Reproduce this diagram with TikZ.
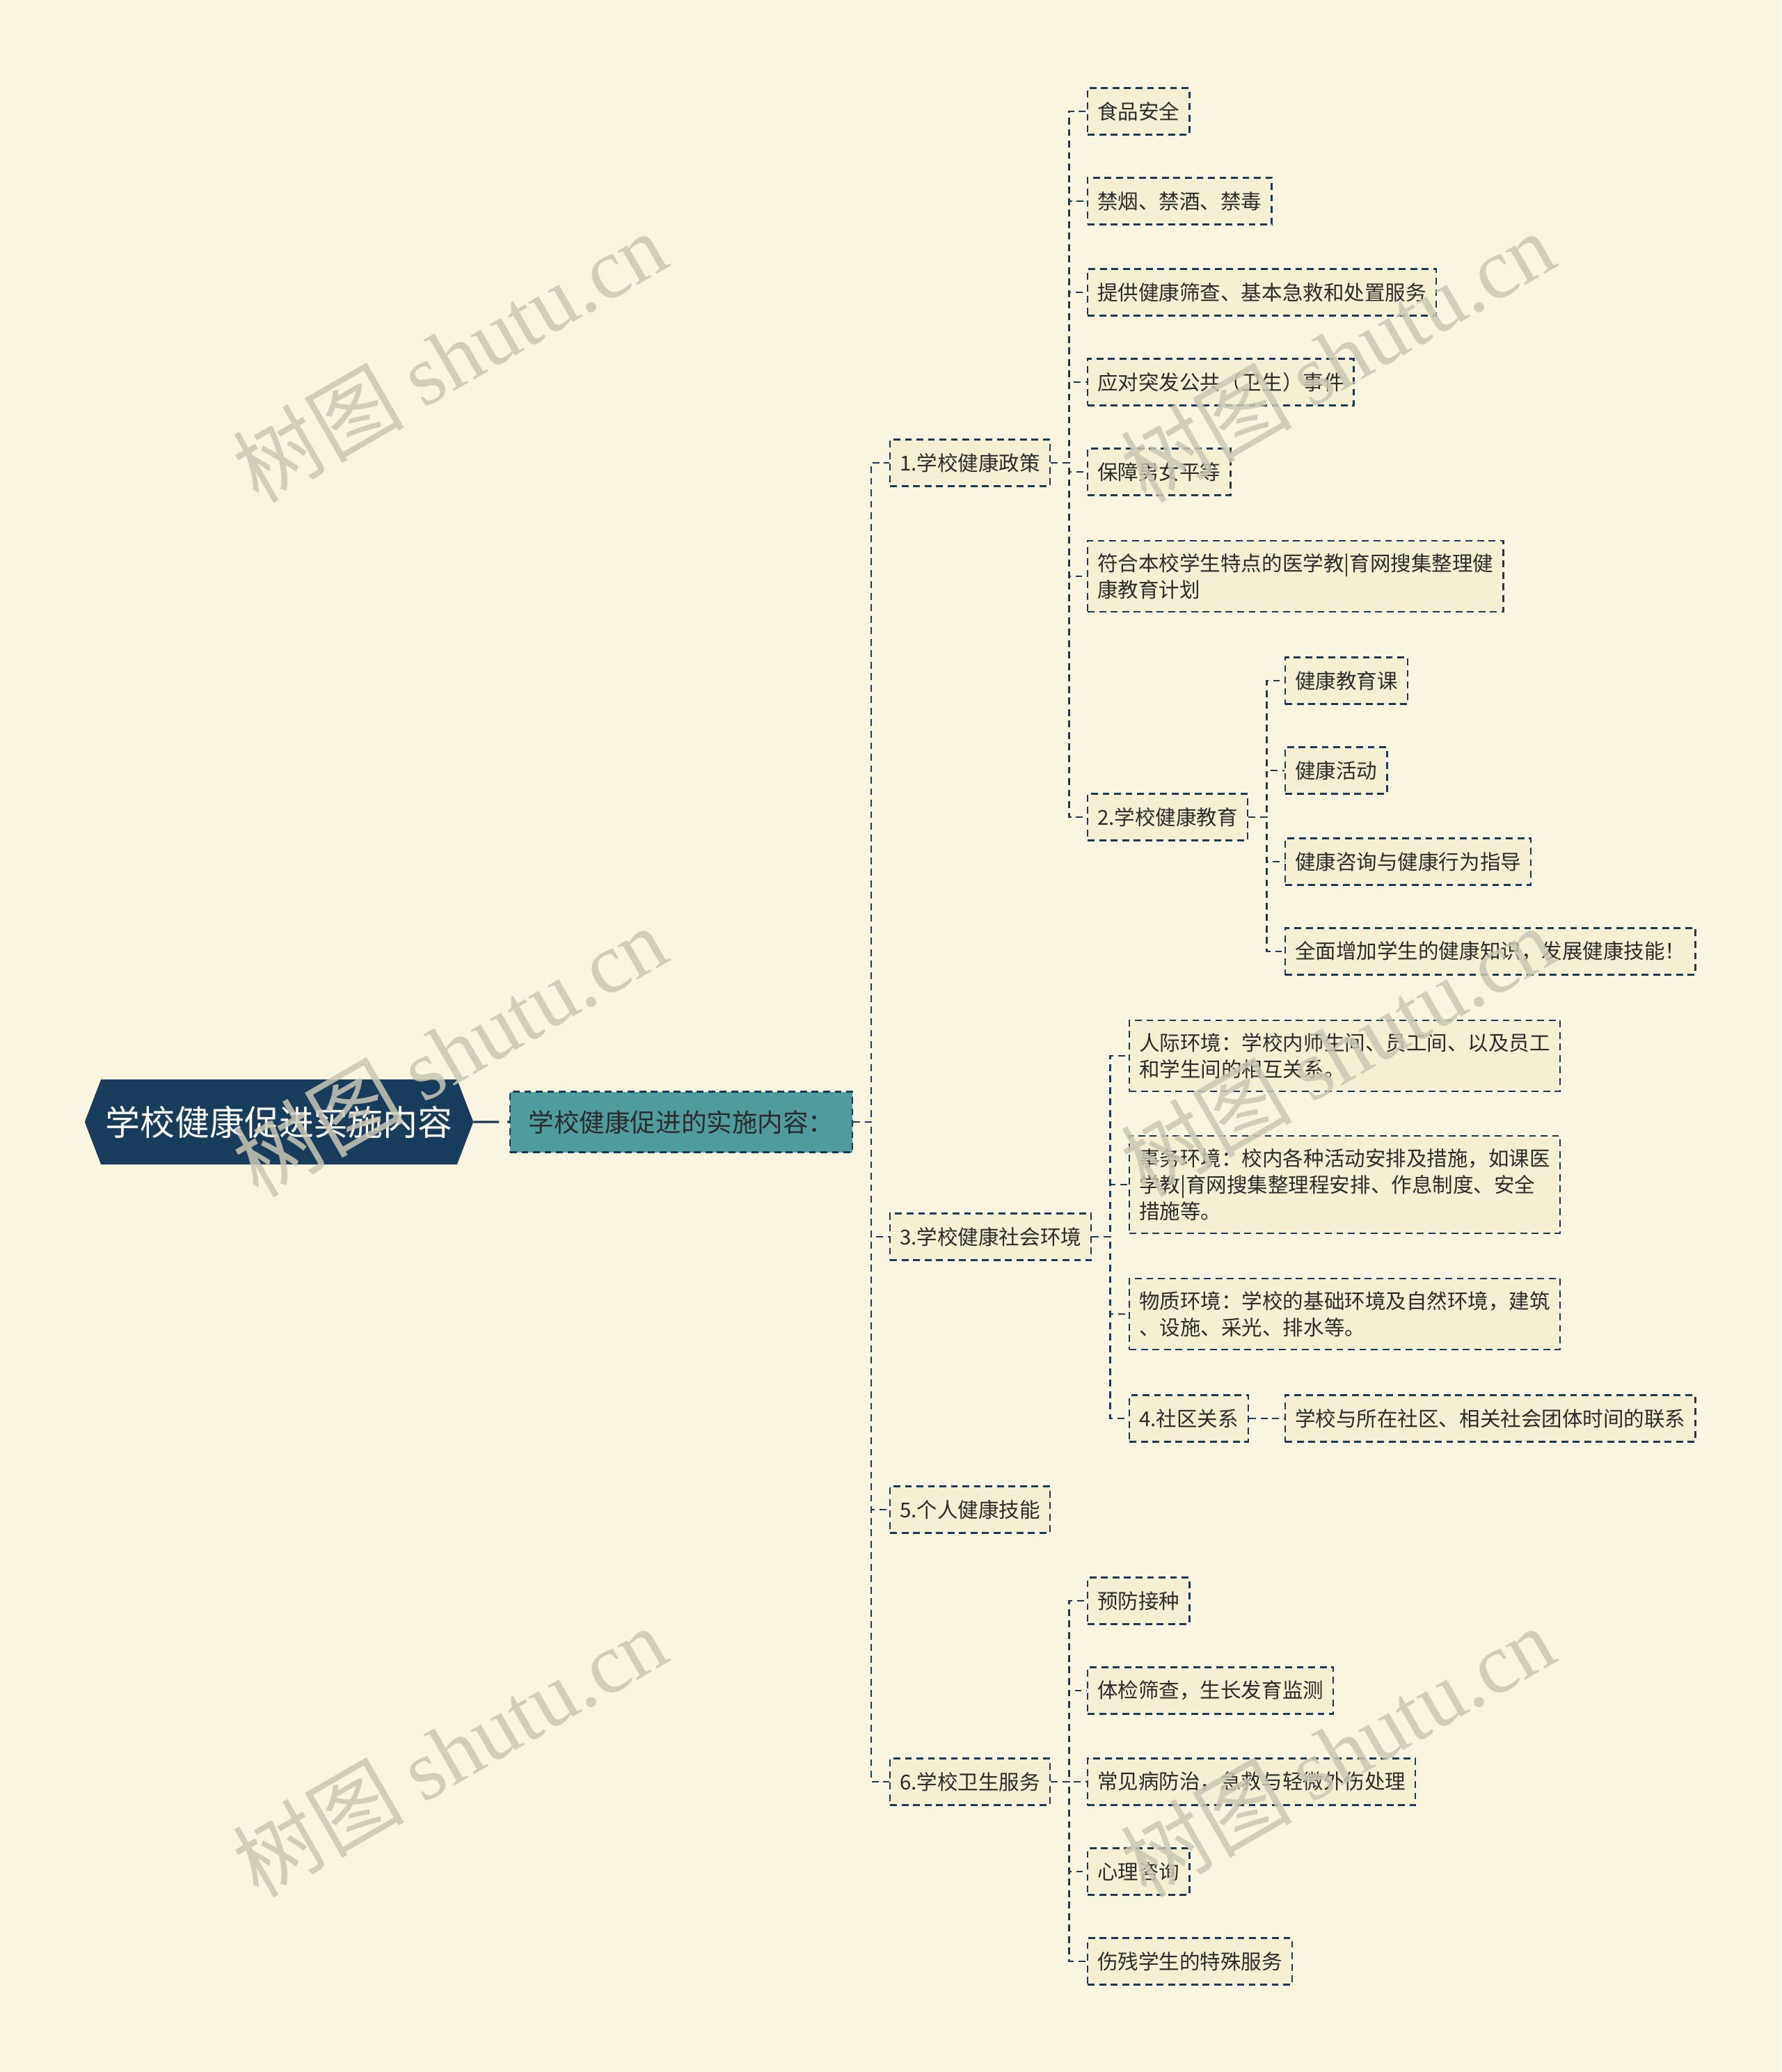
\documentclass[tikz,border=0pt]{standalone}
\usepackage{fontspec}
\setmainfont{Noto Sans CJK SC}
\newfontfamily\wmfont{Liberation Serif}
\usepackage{xcolor}
\usetikzlibrary{shapes.symbols,positioning}
\definecolor{bgcream}{HTML}{FAF5E1}
\definecolor{leaffill}{HTML}{F5EFD3}
\definecolor{navy}{HTML}{1B3A57}
\definecolor{rootblue}{HTML}{183C5B}
\definecolor{hubteal}{HTML}{4E9C9C}
\definecolor{inktext}{HTML}{2B2B2B}
\definecolor{wmgray}{HTML}{C9C6B3}

\begin{document}
\begin{tikzpicture}[
x=1cm,
y=1cm,
every node/.style={font=\fontsize{8.4}{10.8}\selectfont},
topic/.style={signal,signal to=west and east,signal pointer angle=138,draw=navy,fill=rootblue,text=white,minimum width=5.57cm,minimum height=1.21cm,inner sep=0pt,font=\fontsize{14.2}{16}\selectfont},
hub/.style={rectangle,draw=navy,line width=0.7pt,dash pattern=on 2.8pt off 1.9pt,fill=hubteal,text=inktext,minimum width=4.92cm,minimum height=0.87cm,inner sep=0pt,font=\fontsize{10.4}{12}\selectfont},
item/.style={rectangle,anchor=west,draw=navy,line width=0.7pt,dash pattern=on 2.8pt off 1.9pt,fill=leaffill,text=inktext,align=left,inner xsep=4pt,inner ysep=5.2pt,minimum height=0.67cm},
link/.style={draw=navy,line width=0.7pt,dash pattern=on 2.8pt off 1.9pt},
mainlink/.style={draw=navy,line width=0.95pt,dash pattern=on 10.5pt off 3.4pt},
wmark/.style={rotate=30,text=wmgray,opacity=0.85,font=\fontsize{35}{37}\selectfont}
]
\fill[bgcream] (0,0) rectangle (25.60,-29.77);

\node[topic] (root) at (4.01,-16.12) {学校健康促进实施内容};
\node[hub] (hub) at (9.79,-16.12) {学校健康促进的实施内容：};

\node[item] (policy) at (12.78,-6.65) {1.学校健康政策};
\node[item] (socenv) at (12.78,-17.77) {3.学校健康社会环境};
\node[item] (skill) at (12.78,-21.69) {5.个人健康技能};
\node[item] (service) at (12.78,-25.60) {6.学校卫生服务};

\node[item] (food) at (15.62,-1.60) {食品安全};
\node[item] (smoke) at (15.62,-2.89) {禁烟、禁酒、禁毒};
\node[item] (screen) at (15.62,-4.20) {提供健康筛查、基本急救和处置服务};
\node[item] (emerg) at (15.62,-5.49) {应对突发公共（卫生）事件};
\node[item] (gender) at (15.62,-6.78) {保障男女平等};
\node[item] (plan) at (15.62,-8.28) {符合本校学生特点的医学教|育网搜集整理健\\康教育计划};
\node[item] (educ) at (15.62,-11.74) {2.学校健康教育};

\node[item] (course) at (18.46,-9.78) {健康教育课};
\node[item] (activity) at (18.46,-11.07) {健康活动};
\node[item] (consult) at (18.46,-12.38) {健康咨询与健康行为指导};
\node[item] (knowhow) at (18.46,-13.67) {全面增加学生的健康知识，发展健康技能！};

\node[item] (people) at (16.22,-15.17) {人际环境：学校内师生间、员工间、以及员工\\和学生间的相互关系。};
\node[item] (affairs) at (16.22,-17.02) {事务环境：校内各种活动安排及措施，如课医\\学教|育网搜集整理程安排、作息制度、安全\\措施等。};
\node[item] (physical) at (16.22,-18.88) {物质环境：学校的基础环境及自然环境，建筑\\、设施、采光、排水等。};
\node[item] (commun) at (16.22,-20.38) {4.社区关系};
\node[item] (ties) at (18.46,-20.38) {学校与所在社区、相关社会团体时间的联系};

\node[item] (vaccine) at (15.62,-23.00) {预防接种};
\node[item] (checkup) at (15.62,-24.29) {体检筛查，生长发育监测};
\node[item] (disease) at (15.62,-25.60) {常见病防治，急救与轻微外伤处理};
\node[item] (mental) at (15.62,-26.89) {心理咨询};
\node[item] (disabled) at (15.62,-28.18) {伤残学生的特殊服务};

\draw[mainlink] (root) -- (hub);
\foreach \kid in {policy,socenv,skill,service}
  \draw[link] (hub.east) -- ++(0.26,0) |- (\kid.west);
\foreach \kid in {food,smoke,screen,emerg,gender,plan,educ}
  \draw[link] (policy.east) -- ++(0.26,0) |- (\kid.west);
\foreach \kid in {course,activity,consult,knowhow}
  \draw[link] (educ.east) -- ++(0.26,0) |- (\kid.west);
\foreach \kid in {people,affairs,physical,commun}
  \draw[link] (socenv.east) -- ++(0.26,0) |- (\kid.west);
\draw[link] (commun) -- (ties);
\foreach \kid in {vaccine,checkup,disease,mental,disabled}
  \draw[link] (service.east) -- ++(0.26,0) |- (\kid.west);

% watermarks
\node[wmark] (wm1) at (6.46,-5.12) {树图 {\wmfont shutu.cn}};
\node[wmark] (wm2) at (6.46,-15.10) {树图 {\wmfont shutu.cn}};
\node[wmark] (wm3) at (6.46,-25.16) {树图 {\wmfont shutu.cn}};
\node[wmark] (wm4) at (19.22,-5.12) {树图 {\wmfont shutu.cn}};
\node[wmark] (wm5) at (19.22,-15.10) {树图 {\wmfont shutu.cn}};
\node[wmark] (wm6) at (19.22,-25.16) {树图 {\wmfont shutu.cn}};
\end{tikzpicture}
\end{document}
